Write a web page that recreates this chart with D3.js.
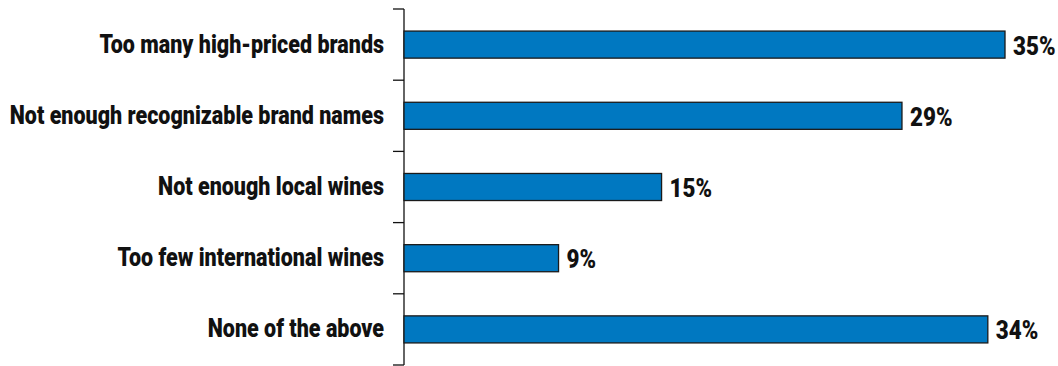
<!DOCTYPE html>
<html>
<head>
<meta charset="utf-8">
<script src="https://cdn.jsdelivr.net/npm/d3@7"></script>
<style>
  html, body { margin: 0; padding: 0; background: #fff; }
  svg text { font-family: Roboto, "Liberation Sans", sans-serif; font-weight: 900; fill: #111; }
</style>
</head>
<body>
<svg id="chart" width="1058" height="366"></svg>
<script>
const categories = [
  "Too many high-priced brands",
  "Not enough recognizable brand names",
  "Not enough local wines",
  "Too few international wines",
  "None of the above"
];
const values = [35, 29, 15, 9, 34];

const svg = d3.select("#chart");
const margin = { top: 9, left: 404 };
const plotH = 356;

const x = d3.scaleLinear().domain([0, 35]).range([margin.left, margin.left + 601]);
const y = d3.scaleBand().domain(categories).range([margin.top, margin.top + plotH]).paddingInner(0.62).paddingOuter(0.31);

// category axis: vertical rule with ticks between the bands
const step = y.step();
const bounds = d3.range(categories.length + 1).map(i => margin.top + i * step);
svg.append("line")
  .attr("x1", margin.left).attr("x2", margin.left)
  .attr("y1", bounds[0]).attr("y2", bounds[bounds.length - 1])
  .attr("stroke", "#111").attr("stroke-width", 1.3);
svg.selectAll("line.tick").data(bounds).join("line")
  .attr("class", "tick")
  .attr("x1", margin.left - 11).attr("x2", margin.left)
  .attr("y1", d => d).attr("y2", d => d)
  .attr("stroke", "#111").attr("stroke-width", 1.3);

svg.selectAll("rect.bar").data(values).join("rect")
  .attr("class", "bar")
  .attr("x", x(0))
  .attr("y", (d, i) => y(categories[i]))
  .attr("width", d => x(d) - x(0))
  .attr("height", y.bandwidth())
  .attr("fill", "#0078c1")
  .attr("stroke", "#1a1a1a")
  .attr("stroke-width", 1.3);

// condensed look: squeeze the glyphs horizontally
const squeeze = 0.86;

svg.selectAll("text.cat").data(categories).join("text")
  .attr("class", "cat")
  .attr("transform", d => `translate(${margin.left - 20},${y(d) + y.bandwidth() / 2 + 8}) scale(${squeeze},1)`)
  .attr("text-anchor", "end")
  .attr("font-size", 25)
  .text(d => d);

svg.selectAll("text.val").data(values).join("text")
  .attr("class", "val")
  .attr("transform", (d, i) => `translate(${x(d) + 8},${y(categories[i]) + y.bandwidth() / 2 + 10}) scale(${squeeze},1)`)
  .attr("font-size", 26)
  .text(d => d + "%");
</script>
</body>
</html>
